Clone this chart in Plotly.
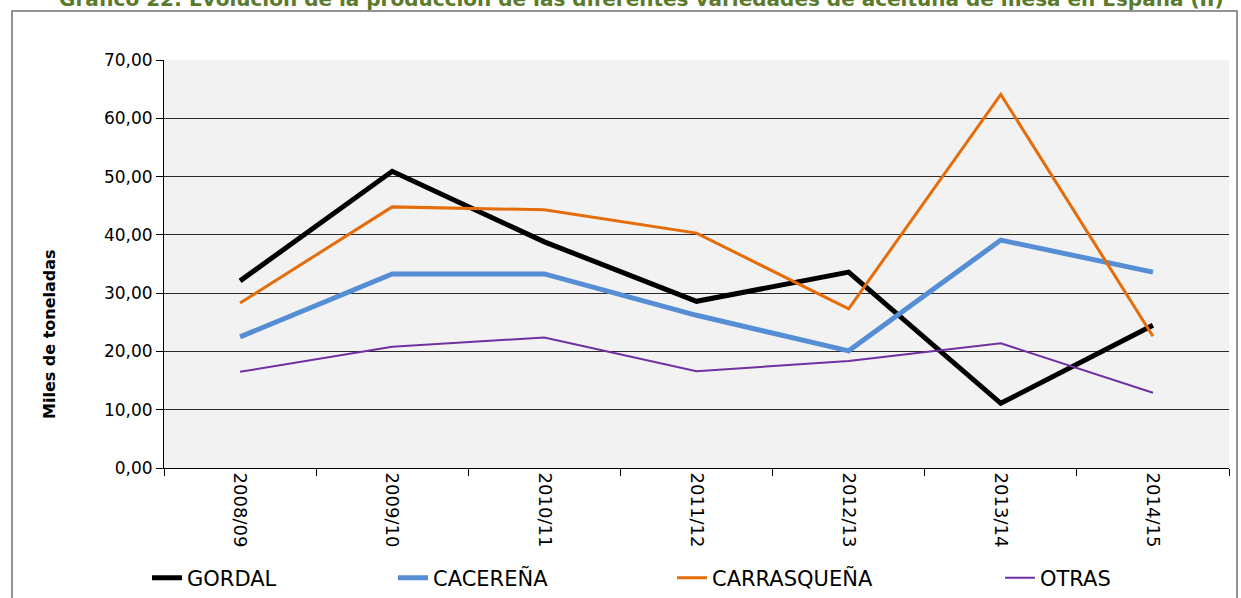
import plotly.graph_objects as go

campaigns = ["2008/09", "2009/10", "2010/11", "2011/12", "2012/13", "2013/14", "2014/15"]
gordal = [32.1, 50.9, 38.8, 28.6, 33.6, 11.1, 24.5]
cacerena = [22.5, 33.3, 33.3, 26.2, 20.1, 39.1, 33.6]
carrasquena = [28.3, 44.8, 44.3, 40.3, 27.3, 64.1, 22.6]
otras = [16.5, 20.8, 22.4, 16.6, 18.35, 21.4, 12.9]

series_names = ["GORDAL", "CACEREÑA", "CARRASQUEÑA", "OTRAS"]
series_values = [gordal, cacerena, carrasquena, otras]
series_colors = ["#000000", "#558ed5", "#e46c0a", "#7030a0"]
series_widths = [5, 5, 3, 2]
y_ticks = [0, 10, 20, 30, 40, 50, 60, 70]
y_ticktext = ["0,00", "10,00", "20,00", "30,00", "40,00", "50,00", "60,00", "70,00"]

FONT = "DejaVu Sans, Arial, sans-serif"

# plot-area geometry in pixels
W, H = 1241, 598
L, R, T, B = 164, 1229, 60, 468
pw, ph = R - L, B - T


def px_x(x):
    return (x - L) / pw


def px_y(y):
    return (B - y) / ph


legend_keys = ["legend", "legend2", "legend3", "legend4"]
legend_text_start = [187, 433, 712, 1040]

fig = go.Figure()
for name, vals, col, w, lk in zip(series_names, series_values, series_colors, series_widths, legend_keys):
    fig.add_trace(go.Scatter(
        x=campaigns, y=vals, name=name, mode="lines",
        line=dict(color=col, width=w), legend=lk,
    ))

layout_legends = {}
for lk, xs in zip(legend_keys, legend_text_start):
    layout_legends[lk] = dict(
        x=px_x(xs - 40), y=px_y(578), xanchor="left", yanchor="middle",
        orientation="h", bgcolor="rgba(0,0,0,0)",
        font=dict(family=FONT, size=21, color="#000000"),
    )

fig.update_layout(
    width=W, height=H,
    margin=dict(l=L, r=W - R, t=T, b=H - B, autoexpand=False),
    paper_bgcolor="white",
    plot_bgcolor="#f2f2f2",
    font=dict(family=FONT, size=17, color="#000000"),
    showlegend=True,
    **layout_legends,
    xaxis=dict(
        type="category", tickangle=90, tickson="boundaries",
        ticks="outside", ticklen=7, tickcolor="#000000",
        showline=True, linecolor="#000000", linewidth=1,
        showgrid=False, range=[-0.5, 6.5],
        tickfont=dict(family=FONT, size=18, color="#000000"),
    ),
    yaxis=dict(
        range=[0, 70], tickvals=y_ticks, ticktext=y_ticktext,
        ticks="outside", ticklen=7, tickcolor="#000000",
        showline=True, linecolor="#000000", linewidth=1,
        showgrid=True, gridcolor="#2a2a2a", gridwidth=1,
        zeroline=False,
        tickfont=dict(family=FONT, size=17, color="#000000"),
    ),
    shapes=[dict(
        type="rect", xref="paper", yref="paper",
        x0=px_x(12), x1=px_x(1237), y0=px_y(11), y1=px_y(640),
        line=dict(color="#707070", width=1.5), fillcolor="rgba(0,0,0,0)", layer="below",
    )],
    annotations=[
        dict(
            text="<b>Gráfico 22: Evolución de la producción de las diferentes variedades de aceituna de mesa en España (II)</b>",
            xref="paper", yref="paper", x=px_x(641), y=px_y(13),
            xanchor="center", yanchor="bottom", showarrow=False,
            font=dict(family=FONT, size=20, color="#5b7a2b"),
        ),
        dict(
            text="<b>Miles de toneladas</b>",
            xref="paper", yref="paper", x=px_x(49), y=px_y(334),
            xanchor="center", yanchor="middle", textangle=-90, showarrow=False,
            font=dict(family=FONT, size=16, color="#000000"),
        ),
    ],
)

fig.write_html("out.html", config={"displayModeBar": False},
               post_script="document.body.style.margin='0';")
